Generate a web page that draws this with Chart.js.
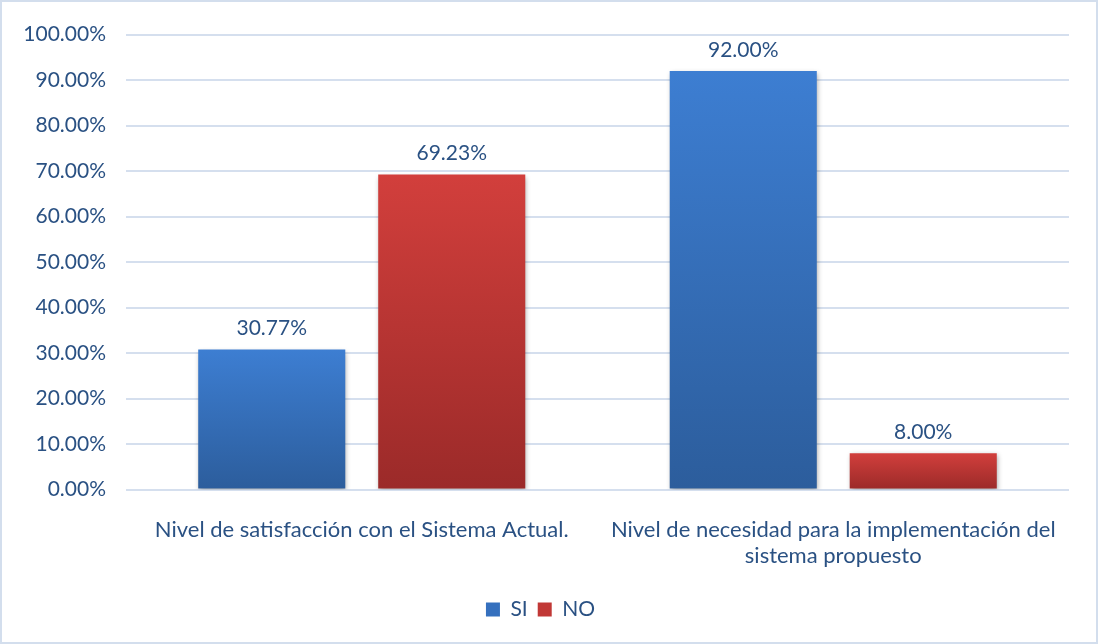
<!DOCTYPE html>
<html><head><meta charset="utf-8">
<script src="https://cdn.jsdelivr.net/npm/chart.js@4/dist/chart.umd.min.js"></script>
<style>
html,body{margin:0;padding:0;background:#fff;}
#wrap{position:absolute;left:0;top:0;width:1098px;height:644px;box-sizing:border-box;border:2px solid #d3deed;}
canvas{display:block;}
</style></head><body>
<div id="wrap"><canvas id="c" width="1094" height="640"></canvas></div>
<script>
const categories = [["Nivel de satisfacción con el Sistema Actual."], ["Nivel de necesidad para la implementación del", "sistema propuesto"]];
const seriesNames = ["SI", "NO"];
const siValues = [30.77, 92.00];
const noValues = [69.23, 8.00];
const yTicks = [0, 10, 20, 30, 40, 50, 60, 70, 80, 90, 100];

const textColor = '#2a5183';
const FONT = 'Lato, "Open Sans", sans-serif';

function grad(ctx, topC, botC) {
  const chart = ctx.chart;
  const ca = chart.chartArea;
  if (!ca || ctx.type !== 'data') return topC;
  const y = chart.scales.y;
  const top = y.getPixelForValue(ctx.raw);
  const bot = y.getPixelForValue(0);
  const g = chart.ctx.createLinearGradient(0, top, 0, bot === top ? top + 1 : bot);
  g.addColorStop(0, topC);
  g.addColorStop(1, botC);
  return g;
}

const shadowPlugin = {
  id: 'shadow',
  beforeDatasetsDraw(chart) {
    const c = chart.ctx; c.save();
    c.shadowColor = 'rgba(0,0,0,0.35)'; c.shadowBlur = 5; c.shadowOffsetX = 1; c.shadowOffsetY = 2;
  },
  afterDatasetsDraw(chart) { chart.ctx.restore(); }
};
const labelPlugin = {
  id: 'vals',
  afterDatasetsDraw(chart) {
    const c = chart.ctx; c.save();
    c.font = '21px ' + FONT; c.fillStyle = textColor; c.textAlign = 'center'; c.textBaseline = 'middle';
    chart.data.datasets.forEach((ds, di) => {
      chart.getDatasetMeta(di).data.forEach((el, i) => {
        c.fillText(ds.data[i].toFixed(2) + '%', el.x, el.y - 21);
      });
    });
    c.restore();
  }
};

new Chart(document.getElementById('c'), {
  type: 'bar',
  data: {
    labels: categories,
    datasets: [
      { label: seriesNames[0], data: siValues,
        backgroundColor: ctx => grad(ctx, '#3d7ed2', '#2c5d9c') },
      { label: seriesNames[1], data: noValues,
        backgroundColor: ctx => grad(ctx, '#d23f3c', '#9b2a29') }
    ]
  },
  options: {
    responsive: false, animation: false,
    devicePixelRatio: 1,
    categoryPercentage: 0.7635, barPercentage: 0.817,
    layout: { padding: { left: 10, right: 27, top: 32, bottom: 12 } },
    scales: {
      y: {
        min: 0, max: 100,
        afterBuildTicks: s => { s.ticks = yTicks.map(v => ({ value: v })); },
        afterFit: s => { s.width = 114; },
        ticks: { color: textColor, font: { size: 21, family: FONT }, padding: 20,
          callback: v => Number(v).toFixed(2) + '%' },
        grid: { color: '#d5dfee', lineWidth: 2, drawTicks: false },
        border: { display: false }
      },
      x: {
        ticks: { color: textColor, font: { size: 22, family: FONT, lineHeight: 1.17 }, padding: 20, maxRotation: 0 },
        grid: { display: false },
        border: { display: false }
      }
    },
    plugins: {
      legend: {
        position: 'bottom',
        labels: {
          color: textColor, font: { size: 21, family: FONT },
          boxWidth: 14, boxHeight: 14, padding: 10,
          generateLabels(chart) {
            return [
              { text: 'SI', fillStyle: '#3570be', strokeStyle: 'transparent', lineWidth: 0, datasetIndex: 0, fontColor: textColor },
              { text: 'NO', fillStyle: '#c13836', strokeStyle: 'transparent', lineWidth: 0, datasetIndex: 1, fontColor: textColor }
            ];
          }
        }
      },
      tooltip: { enabled: false }
    }
  },
  plugins: [shadowPlugin, labelPlugin]
});
</script>
</body></html>
